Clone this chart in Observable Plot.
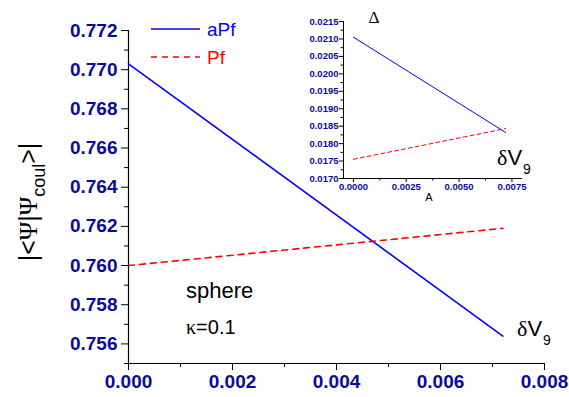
<!DOCTYPE html>
<html><head><meta charset="utf-8">
<script src="https://cdn.jsdelivr.net/npm/d3@7"></script>
<script src="https://cdn.jsdelivr.net/npm/@observablehq/plot@0.6"></script>
<style>body{margin:0;background:#fff;} #chart{width:569px;height:397px;}</style>
</head><body><div id="chart"></div>
<script>
// main chart data
const deltaV = [0, 0.0072];
const aPf = [0.7703, 0.7564];
const Pf = [0.7600, 0.7619];
// inset data
const insetA = [0, 0.0072];
const insetAPf = [0.02105, 0.01832];
const insetPf = [0.01755, 0.01843];
// scales and ticks
const xDomain = [0, 0.008];
const yDomain = [0.755, 0.772];
const xMajor = [0, 0.002, 0.004, 0.006, 0.008];
const xMinor = [0.001, 0.003, 0.005, 0.007];
const yMajor = [0.756, 0.758, 0.760, 0.762, 0.764, 0.766, 0.768, 0.770, 0.772];
const yMinor = [0.755, 0.757, 0.759, 0.761, 0.763, 0.765, 0.767, 0.769, 0.771];
const insetXDomain = [-0.00047, 0.008];
const insetYDomain = [0.0170, 0.0215];
const insetXMajor = [0, 0.0025, 0.005, 0.0075];
const insetXMinor = [0.00125, 0.00375, 0.00625];
const insetYMajor = [0.0170, 0.0175, 0.0180, 0.0185, 0.0190, 0.0195, 0.0200, 0.0205, 0.0210, 0.0215];
const insetYMinor = [0.01725, 0.01775, 0.01825, 0.01875, 0.01925, 0.01975, 0.02025, 0.02075, 0.02125];
const seriesNames = ["aPf", "Pf"];
const seriesColors = ["#0000ff", "#ff0000"];

const tickColor = "#0a0a9c";
const FONT = "Liberation Sans, Arial, sans-serif";
const SERIF = "Liberation Serif, Times New Roman, serif";
const rows = (xs, ys) => xs.map((x, i) => ({x, y: ys[i]}));

const main = Plot.plot({
  width: 569, height: 397,
  marginLeft: 128, marginRight: 25, marginTop: 30, marginBottom: 34,
  x: {domain: xDomain},
  y: {domain: yDomain},
  style: {fontFamily: FONT, background: "white", overflow: "visible"},
  marks: [
    Plot.axisX(xMinor, {tickSize: 4, fill: "none", stroke: "black", label: null}),
    Plot.axisX(xMajor, {tickSize: 7, tickPadding: 4, tickFormat: d3.format(".3f"), fill: tickColor, stroke: "black", fontSize: 19, fontWeight: "bold", label: null}),
    Plot.axisY(yMinor, {tickSize: 4, fill: "none", stroke: "black", label: null}),
    Plot.axisY(yMajor, {tickSize: 7, tickPadding: 4, tickFormat: d3.format(".3f"), fill: tickColor, stroke: "black", fontSize: 19, fontWeight: "bold", label: null}),
    Plot.ruleX([xDomain[0]], {stroke: "black", strokeWidth: 1.2}),
    Plot.ruleY([yDomain[0]], {stroke: "black", strokeWidth: 1.2}),
    Plot.line(rows(deltaV, aPf), {x: "x", y: "y", stroke: seriesColors[0], strokeWidth: 1.6}),
    Plot.line(rows(deltaV, Pf), {x: "x", y: "y", stroke: seriesColors[1], strokeWidth: 1.6, strokeDasharray: "6,5"})
  ]
});

const inset = Plot.plot({
  width: 240, height: 210,
  marginLeft: 43, marginRight: 18, marginTop: 21, marginBottom: 32,
  x: {domain: insetXDomain},
  y: {domain: insetYDomain},
  style: {fontFamily: FONT, background: "transparent", overflow: "visible"},
  marks: [
    Plot.axisX(insetXMinor, {tickSize: 2.5, fill: "none", stroke: "black", label: null}),
    Plot.axisX(insetXMajor, {tickSize: 4, tickPadding: 1, tickFormat: d3.format(".4f"), fill: tickColor, stroke: "black", fontSize: 9.5, fontWeight: "bold", label: null}),
    Plot.axisY(insetYMinor, {tickSize: 2.5, fill: "none", stroke: "black", label: null}),
    Plot.axisY(insetYMajor, {tickSize: 4, tickPadding: 1, tickFormat: d3.format(".4f"), fill: tickColor, stroke: "black", fontSize: 9.5, fontWeight: "bold", label: null}),
    Plot.ruleX([insetXDomain[0]], {stroke: "black", strokeWidth: 1}),
    Plot.ruleY([insetYDomain[0]], {stroke: "black", strokeWidth: 1}),
    Plot.line(rows(insetA, insetAPf), {x: "x", y: "y", stroke: seriesColors[0], strokeWidth: 1}),
    Plot.line(rows(insetA, insetPf), {x: "x", y: "y", stroke: seriesColors[1], strokeWidth: 1, strokeDasharray: "4,3"}),
    Plot.text(["Δ"], {text: d => d, frameAnchor: "top-left", dx: 25, dy: -11, fontSize: 17, fontFamily: SERIF, fill: "black"}),
    Plot.text(["A"], {text: d => d, frameAnchor: "bottom", dx: -4, dy: 22, fontSize: 11, fill: "black"})
  ]
});
inset.setAttribute("x", 300);
inset.setAttribute("y", 0);
inset.style.width = "240px";
inset.style.height = "210px";
inset.style.maxWidth = "none";
main.appendChild(inset);

const svg = d3.select(main);
// y-axis label with subscript
const yl = svg.append("text")
  .attr("transform", "translate(37,202) rotate(-90)")
  .attr("text-anchor", "middle")
  .attr("font-family", FONT).attr("font-size", 25).attr("fill", "black");
yl.append("tspan").text("|<");
yl.append("tspan").attr("font-family", SERIF).text("Ψ");
yl.append("tspan").text("|");
yl.append("tspan").attr("font-family", SERIF).text("Ψ");
yl.append("tspan").attr("font-size", 18).attr("dy", 8).text("coul");
yl.append("tspan").attr("dy", -8).text(">|");

// legend
const legendY = [29, 57];
seriesNames.forEach((name, i) => {
  svg.append("line").attr("x1", 151).attr("x2", 200).attr("y1", legendY[i]).attr("y2", legendY[i])
    .attr("stroke", seriesColors[i]).attr("stroke-width", 1.6)
    .attr("stroke-dasharray", i === 1 ? "6,5" : null);
  svg.append("text").attr("x", 207).attr("y", legendY[i] + 7).attr("text-anchor", "start")
    .attr("font-family", FONT).attr("font-size", 19).attr("fill", seriesColors[i]).text(name);
});

// annotations
svg.append("text").attr("x", 186).attr("y", 298).attr("text-anchor", "start").attr("font-family", FONT).attr("font-size", 22).attr("fill", "black").text("sphere");
const kap = svg.append("text").attr("x", 186).attr("y", 334).attr("text-anchor", "start").attr("font-family", FONT).attr("font-size", 20).attr("fill", "black");
kap.append("tspan").attr("font-family", SERIF).text("κ");
kap.append("tspan").text("=0.1");

function dv9(x, y) {
  const t = svg.append("text").attr("x", x).attr("y", y).attr("text-anchor", "start").attr("font-family", FONT).attr("font-size", 22).attr("fill", "black");
  t.append("tspan").attr("font-family", SERIF).text("δ");
  t.append("tspan").text("V");
  t.append("tspan").attr("font-size", 14).attr("dy", 9).attr("dx", 1).text("9");
}
dv9(517, 336);
dv9(497, 165);

document.getElementById("chart").appendChild(main);
</script>
</body></html>
